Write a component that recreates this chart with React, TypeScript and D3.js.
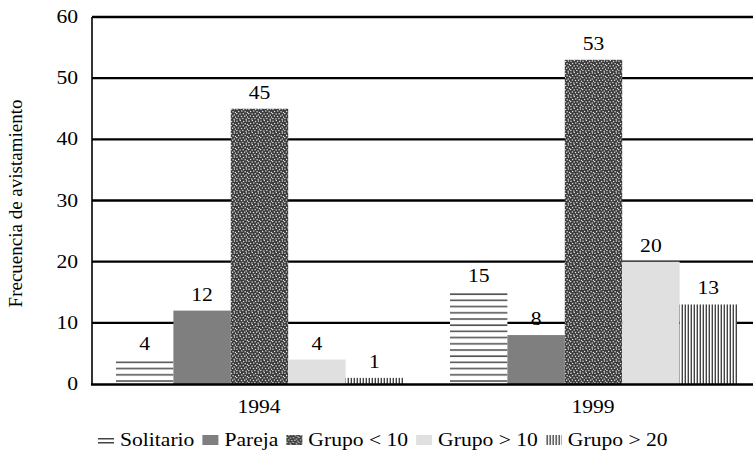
import React, { useRef, useEffect } from 'react'
import * as d3 from 'd3'

const years = ['1994', '1999']
const series = ['Solitario', 'Pareja', 'Grupo < 10', 'Grupo > 10', 'Grupo > 20']
const values1994 = [4, 12, 45, 4, 1]
const values1999 = [15, 8, 53, 20, 13]
const yTicks = [0, 10, 20, 30, 40, 50, 60]
const yTitle = 'Frecuencia de avistamiento'

const fills = ['url(#pSol)', '#7f7f7f', 'url(#pStip)', '#e0e0e0', 'url(#pVert)']

const App = () => {
  const svgRef = useRef<SVGSVGElement>(null)

  useEffect(() => {
    if (!svgRef.current) return
    const width = 753
    const font = "'Liberation Serif', 'Times New Roman', serif"
    const sx = 1.2
    const svg = d3.select(svgRef.current)
    svg.selectAll('*').remove()

    const defs = svg.append('defs')
    // horizontal lines
    const pSol = defs.append('pattern').attr('id', 'pSol')
      .attr('patternUnits', 'userSpaceOnUse').attr('width', 8).attr('height', 6.2)
    pSol.append('rect').attr('width', 8).attr('height', 6.2).attr('fill', '#fff')
    pSol.append('rect').attr('y', 2).attr('width', 8).attr('height', 1.6).attr('fill', '#555')
    // vertical lines
    const pVert = defs.append('pattern').attr('id', 'pVert')
      .attr('patternUnits', 'userSpaceOnUse').attr('width', 3).attr('height', 8)
    pVert.append('rect').attr('width', 3).attr('height', 8).attr('fill', '#fff')
    pVert.append('rect').attr('x', 0.6).attr('width', 1.4).attr('height', 8).attr('fill', '#444')
    // stipple, irregular speckles in a 12px tile
    const pStip = defs.append('pattern').attr('id', 'pStip')
      .attr('patternUnits', 'userSpaceOnUse').attr('width', 12).attr('height', 12)
    pStip.append('rect').attr('width', 12).attr('height', 12).attr('fill', '#3a3a3a')
    const dots = [
      [1, 1.2], [4.3, 0.6], [7.6, 1.5], [10.4, 0.9],
      [2.6, 3.4], [5.8, 3.1], [9.1, 3.8], [11.5, 4.6],
      [0.7, 5.6], [4.1, 6.0], [7.2, 5.7], [10.2, 6.9],
      [2.3, 8.1], [5.5, 8.6], [8.6, 8.3], [0.9, 10.4],
      [3.9, 10.9], [6.9, 10.6], [10.1, 11.2], [11.6, 9.2]
    ]
    pStip.selectAll('circle').data(dots).join('circle')
      .attr('cx', d => d[0]).attr('cy', d => d[1]).attr('r', 0.75).attr('fill', '#e4e4e4')

    const left = 92
    const x0 = d3.scaleBand().domain(years).range([left, 760]).padding(0)
    const bw = x0.bandwidth()
    const x1 = d3.scaleBand().domain(series).range([24, bw - 23]).padding(0)
    const y = d3.scaleLinear().domain([0, 60]).range([384, 17])

    // gridlines
    svg.append('g').selectAll('line').data(yTicks.filter(t => t > 0)).join('line')
      .attr('x1', left).attr('x2', width)
      .attr('y1', d => y(d)).attr('y2', d => y(d))
      .attr('stroke', '#000').attr('stroke-width', 2.4)

    // tick labels
    svg.append('g').selectAll('text').data(yTicks).join('text')
      .attr('transform', d => `translate(78,${y(d) + 6}) scale(${sx},1)`)
      .attr('text-anchor', 'end')
      .style('font-family', font).attr('font-size', 18)
      .text(d => d)

    const tableRows = [values1994, values1999]
    const groups = svg.append('g').selectAll('g').data(years).join('g')
      .attr('transform', d => `translate(${x0(d)},0)`)

    groups.each(function (yr, gi) {
      const g = d3.select(this)
      const vals = series.map((s, i) => ({ s, v: tableRows[gi][i], i }))
      g.selectAll('rect').data(vals).join('rect')
        .attr('x', d => x1(d.s)!)
        .attr('width', x1.bandwidth())
        .attr('y', d => y(d.v))
        .attr('height', d => y(0) - y(d.v))
        .attr('fill', d => fills[d.i])
      g.selectAll('text').data(vals).join('text')
        .attr('transform', d => `translate(${x1(d.s)! + x1.bandwidth() / 2},${y(d.v) - 10}) scale(${sx},1)`)
        .attr('text-anchor', 'middle')
        .style('font-family', font).attr('font-size', 18)
        .text(d => d.v)
    })

    // axes lines
    svg.append('line').attr('x1', left).attr('x2', left).attr('y1', y(60)).attr('y2', y(0))
      .attr('stroke', '#000').attr('stroke-width', 1.6)
    svg.append('line').attr('x1', left - 1).attr('x2', width).attr('y1', y(0) + 0.5).attr('y2', y(0) + 0.5)
      .attr('stroke', '#000').attr('stroke-width', 2.6)

    // category labels
    svg.append('g').selectAll('text').data(years).join('text')
      .attr('transform', d => `translate(${x0(d)! + bw / 2},413) scale(${sx},1)`)
      .attr('text-anchor', 'middle')
      .style('font-family', font).attr('font-size', 18)
      .text(d => d)

    // y title
    svg.append('text')
      .attr('transform', `translate(22,${(y(0) + y(60)) / 2 + 3}) rotate(-90)`)
      .attr('text-anchor', 'middle')
      .style('font-family', font).attr('font-size', 19)
      .text(yTitle)

    // legend
    const leg = svg.append('g')
    let cx = 98
    series.forEach((s, i) => {
      const item = leg.append('g').attr('transform', `translate(${cx},0)`)
      if (i === 0) {
        item.append('rect').attr('x', 0).attr('y', 438).attr('width', 16).attr('height', 1.5).attr('fill', '#444')
        item.append('rect').attr('x', 0).attr('y', 442).attr('width', 16).attr('height', 1.5).attr('fill', '#444')
      } else {
        item.append('rect').attr('x', 0).attr('y', 435).attr('width', 16).attr('height', 10).attr('fill', fills[i])
      }
      const t = item.append('text')
        .attr('transform', `translate(22,446) scale(${sx},1)`)
        .style('font-family', font).attr('font-size', 18)
        .text(s)
      const w = (t.node() as SVGTextElement).getComputedTextLength() * sx
      cx += 22 + w + 8
    })
  }, [])

  return (
    <svg ref={svgRef} width={753} height={450}
      style={{ position: 'absolute', left: 0, top: 0, background: '#fff' }} />
  )
}

export default App
